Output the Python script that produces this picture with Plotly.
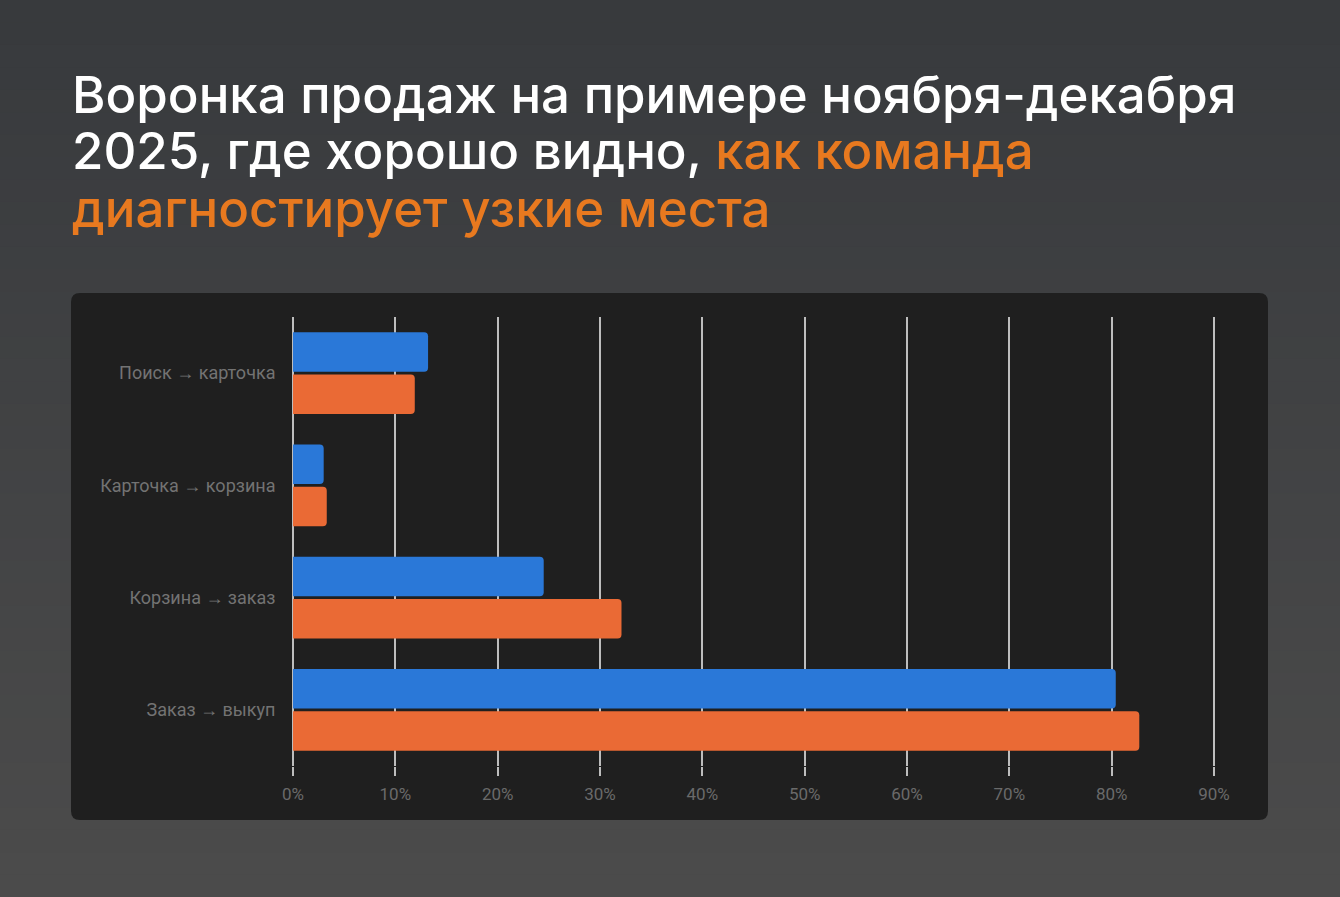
import plotly.graph_objects as go

# funnel steps (top to bottom) and conversion rates, %
steps = ["Поиск → карточка", "Карточка → корзина", "Корзина → заказ", "Заказ → выкуп"]
november = [13.2, 3.0, 24.5, 80.4]
december = [11.9, 3.3, 32.1, 82.7]
tick_vals = [0, 10, 20, 30, 40, 50, 60, 70, 80, 90]
tick_text = [str(v) + "%" for v in tick_vals]

title_lines = ["Воронка продаж на примере ноября-декабря",
               "2025, где хорошо видно, <span style='color:#e8791f'>как команда</span>",
               "<span style='color:#e8791f'>диагностирует узкие места</span>"]

W, H = 1340, 897

fig = go.Figure()
fig.add_trace(go.Bar(y=steps, x=november, orientation='h', name='ноябрь',
                     marker=dict(color='#2a78d8', cornerradius=4, line=dict(width=0))))
fig.add_trace(go.Bar(y=steps, x=december, orientation='h', name='декабрь',
                     marker=dict(color='#ea6a35', cornerradius=4, line=dict(width=0))))

# page background gradient made from thin strips
n = 40
shapes = []
c0 = (56, 58, 61)
c1 = (75, 75, 75)
for i in range(n):
    t = i / (n - 1)
    col = 'rgb(%d,%d,%d)' % tuple(round(a + (b - a) * t) for a, b in zip(c0, c1))
    shapes.append(dict(type='rect', xref='paper', yref='paper', layer='below',
                       x0=0, x1=1, y0=1 - (i + 1) / n - 0.002, y1=1 - i / n,
                       fillcolor=col, line=dict(width=0)))

# dark rounded panel behind the chart
x0, x1 = 71 / W, 1268 / W
y0, y1 = 1 - 820 / H, 1 - 293 / H
rx, ry = 9 / W, 9 / H
panel = (f"M {x0+rx},{y1} L {x1-rx},{y1} Q {x1},{y1} {x1},{y1-ry} "
         f"L {x1},{y0+ry} Q {x1},{y0} {x1-rx},{y0} L {x0+rx},{y0} "
         f"Q {x0},{y0} {x0},{y0+ry} L {x0},{y1-ry} Q {x0},{y1} {x0+rx},{y1} Z")
shapes.append(dict(type='path', path=panel, xref='paper', yref='paper', layer='below',
                   fillcolor='#1f1f1f', line=dict(width=0)))

annotations = []
for k, line in enumerate(title_lines):
    annotations.append(dict(text=line, xref='paper', yref='paper', x=70 / W, y=1 - (94 + 57 * k) / H,
                            xanchor='left', yanchor='middle', align='left', showarrow=False,
                            font=dict(family='Inter, Noto Sans, sans-serif', size=51, weight=500,
                                      color='#ffffff')))

# x range padded a hair so the 0% and 90% grid lines get drawn
pad = 0.15
ppu = (1214 - 293) / 90

fig.update_layout(
    template='none',
    width=W, height=H,
    margin=dict(l=0, r=0, t=0, b=0, pad=0, autoexpand=False),
    paper_bgcolor='#3f4042', plot_bgcolor='rgba(0,0,0,0)',
    showlegend=False,
    barmode='group', bargap=0.25, bargroupgap=0.06,
    shapes=shapes,
    annotations=annotations,
    font=dict(family='Roboto, Arial, sans-serif', color='#707070', size=17),
    xaxis=dict(domain=[(293 - pad * ppu) / W, (1214 + pad * ppu) / W], range=[-pad, 90 + pad],
               tickvals=tick_vals, ticktext=tick_text, automargin=False,
               showgrid=True, gridcolor='#bdbdbd', gridwidth=1.5, zeroline=False,
               ticks='outside', ticklen=9, tickcolor='#bdbdbd', tickwidth=1.5, ticklabelstandoff=4,
               tickfont=dict(size=17, color='#6a6a6a'), showline=False, fixedrange=True),
    yaxis=dict(domain=[1 - 766 / H, 1 - 317 / H], autorange='reversed', automargin=False,
               showgrid=False, zeroline=False, ticks='', ticklabelstandoff=15,
               tickfont=dict(size=18, color='#737373'), fixedrange=True),
)

fig.write_html("out.html", config={'displayModeBar': False},
               post_script="document.body.style.margin='0';document.body.style.overflow='hidden';")
